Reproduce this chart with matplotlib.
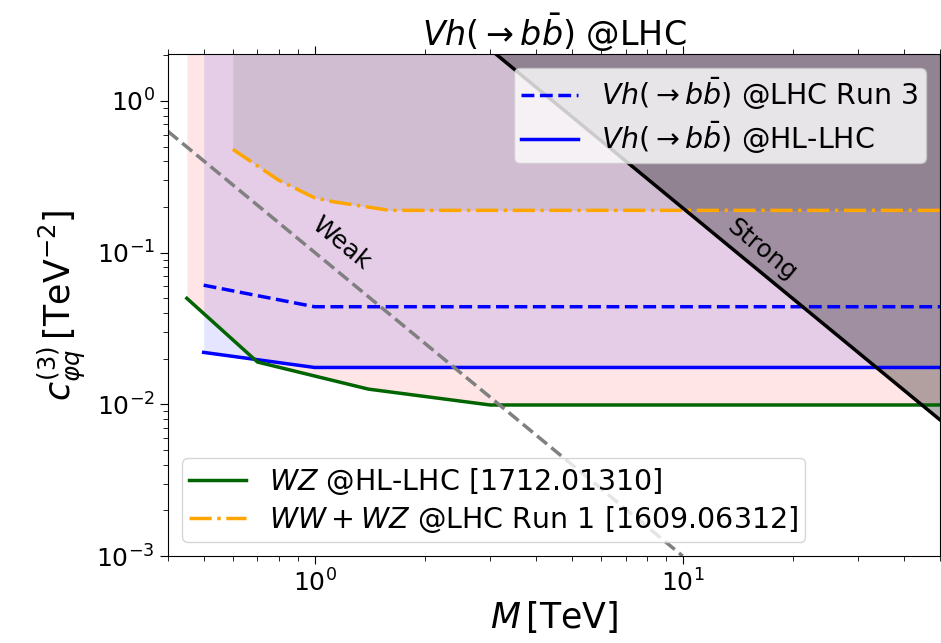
import numpy as np
import matplotlib
matplotlib.use('Agg')
import matplotlib.pyplot as plt

plt.rcParams['font.size'] = 18

# constraint curves (M in TeV, c in TeV^-2)
wz_M = [0.45, 0.7, 1.4, 3.0, 50]
wz_c = [0.05, 0.019, 0.0126, 0.0099, 0.0099]

vh_hl_M = [0.5, 1.0, 50]
vh_hl_c = [0.022, 0.0175, 0.0175]

vh_r3_M = [0.5, 1.0, 50]
vh_r3_c = [0.061, 0.044, 0.044]

ww_M = [0.6, 0.8, 1.0, 1.12, 1.6, 50]
ww_c = [0.48, 0.30, 0.23, 0.217, 0.19, 0.19]

# power-counting lines
strong_M = [3.1, 50]
strong_c = [2.05, 0.0079]
weak_M = [0.4, 10.0]
weak_c = [0.63, 0.001]

c_top = 10

#%%
fig = plt.figure(figsize=(9.41, 6.43), dpi=100)
ax = fig.add_axes([168/941, 1 - 556/643, (940 - 168)/941, (556 - 54)/643])

# excluded regions
ax.fill_between(wz_M, wz_c, c_top, color='red', alpha=0.1, lw=0)
ax.fill_between(vh_hl_M, vh_hl_c, c_top, color='blue', alpha=0.1, lw=0)
ax.fill_between(ww_M, ww_c, c_top, color='grey', alpha=0.2, lw=0)
ax.fill_between(strong_M, strong_c, c_top, color='black', alpha=0.3, lw=0)

l_r3, = ax.plot(vh_r3_M, vh_r3_c, color='blue', ls='--', lw=2.5,
                label=r'$Vh(\to b\bar{b})$ @LHC Run 3')
l_hl, = ax.plot(vh_hl_M, vh_hl_c, color='blue', lw=2.5,
                label=r'$Vh(\to b\bar{b})$ @HL-LHC')
l_wz, = ax.plot(wz_M, wz_c, color='darkgreen', lw=2.5,
                label=r'$WZ$ @HL-LHC [1712.01310]')
l_ww, = ax.plot(ww_M, ww_c, color='orange', ls='-.', lw=2.5,
                label=r'$WW+WZ$ @LHC Run 1 [1609.06312]')

ax.plot(strong_M, strong_c, color='black', lw=2.5)
ax.plot(weak_M, weak_c, color='grey', ls='--', lw=2.5)

ax.text(1.18, 0.116, 'Weak', rotation=-39.4, ha='center', va='center',
        rotation_mode='anchor')
ax.text(16.4, 0.104, 'Strong', rotation=-39.4, ha='center', va='center',
        rotation_mode='anchor')

ax.set_xscale('log')
ax.set_yscale('log')
ax.set_xlim(0.4, 50)
ax.set_ylim(1e-3, 2.04)
ax.tick_params(which='both', top=True, right=True, direction='out')
ax.tick_params(which='major', length=6)
ax.tick_params(which='minor', length=3.5)

ax.set_xlabel(r'$M\,[\mathrm{TeV}]$', fontsize=25, labelpad=2)
ax.set_ylabel(r'$c_{\varphi q}^{(3)}\,[\mathrm{TeV}^{-2}]$', fontsize=25,
              labelpad=6)
ax.set_title(r'$Vh(\to b\bar{b})$ @LHC', fontsize=24, pad=6)

leg1 = ax.legend(handles=[l_r3, l_hl], loc='upper right', fontsize=20.5,
                 labelspacing=0.25, borderpad=0.25)
ax.add_artist(leg1)
ax.legend(handles=[l_wz, l_ww], loc='lower left', fontsize=20.5,
          labelspacing=0.25, borderpad=0.25)

plt.savefig('out.png', dpi=100)
